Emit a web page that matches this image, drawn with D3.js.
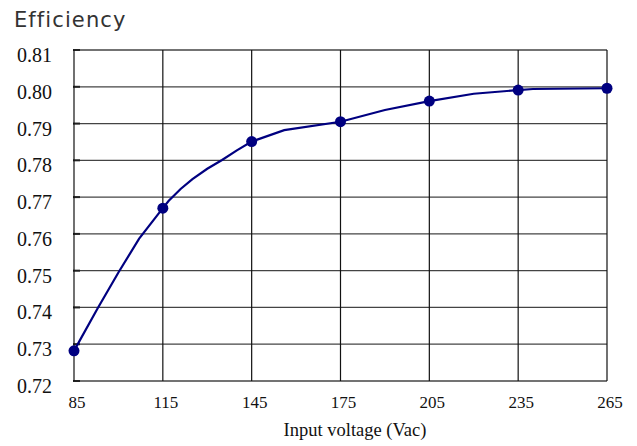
<!DOCTYPE html>
<html>
<head>
<meta charset="utf-8">
<script src="https://cdn.jsdelivr.net/npm/d3@7"></script>
<style>
  body { margin: 0; background: #fff; }
</style>
</head>
<body>
<svg id="chart" width="637" height="446"></svg>
<script>
// measured curve (with in-between vertices) and the marked points
var lineV = [85, 93, 100, 107, 115, 117, 121, 125, 130, 135, 140, 145, 156, 175, 190, 205, 220, 235, 240, 265];
var lineE = [0.7282, 0.7398, 0.7495, 0.7587, 0.7670, 0.7690, 0.7722, 0.7749, 0.7777, 0.7801, 0.7827, 0.7851, 0.7882,
             0.7905, 0.7937, 0.7961, 0.7981, 0.7991, 0.7994, 0.7996];
var markV = [85, 115, 145, 175, 205, 235, 265];
var markE = [0.7282, 0.7670, 0.7851, 0.7905, 0.7961, 0.7991, 0.7996];
var xTicks = [85, 115, 145, 175, 205, 235, 265];
var yTicks = [0.72, 0.73, 0.74, 0.75, 0.76, 0.77, 0.78, 0.79, 0.80, 0.81];

var plotL = 74, plotR = 607, plotT = 50, plotB = 381;

function draw()
{
    var svg = d3.select("svg"),
        x = d3.scaleLinear().domain([85, 265]).range([plotL, plotR]),
        y = d3.scaleLinear().domain([0.72, 0.81]).range([plotB, plotT]);

    // grid
    svg.selectAll(".hgrid").data(yTicks).enter().append("line")
      .attr("x1", plotL - 1).attr("x2", plotR)
      .attr("y1", function(d) { return y(d); })
      .attr("y2", function(d) { return y(d); })
      .attr("stroke", "#444").attr("stroke-width", 1.3);
    svg.selectAll(".lticks").data(yTicks).enter().append("line")
      .attr("x1", plotL - 1).attr("x2", plotL + 6)
      .attr("y1", function(d) { return y(d); })
      .attr("y2", function(d) { return y(d); })
      .attr("stroke", "#222").attr("stroke-width", 2);
    svg.selectAll(".vgrid").data(xTicks).enter().append("line")
      .attr("y1", plotT).attr("y2", plotB)
      .attr("x1", function(d) { return x(d); })
      .attr("x2", function(d) { return x(d); })
      .attr("stroke", "#111").attr("stroke-width", 1.2);

    // y labels
    svg.selectAll(".ylab").data(yTicks).enter().append("text")
      .attr("x", 52).attr("y", function(d) { return y(d) + 12; })
      .attr("text-anchor", "end")
      .attr("font-family", "Liberation Serif, Times New Roman, serif")
      .attr("font-size", 20).attr("fill", "#111")
      .text(function(d) { return d.toFixed(2); });

    // x labels
    svg.selectAll(".xlab").data(xTicks).enter().append("text")
      .attr("x", function(d) { return x(d) + 3; }).attr("y", 408)
      .attr("text-anchor", "middle")
      .attr("font-family", "Liberation Serif, Times New Roman, serif")
      .attr("font-size", 17).attr("fill", "#111")
      .text(function(d) { return d; });

    svg.append("text")
      .attr("x", 355).attr("y", 436)
      .attr("text-anchor", "middle")
      .attr("font-family", "Liberation Serif, Times New Roman, serif")
      .attr("font-size", 18.5).attr("fill", "#111")
      .text("Input voltage (Vac)");

    svg.append("text")
      .attr("x", 14).attr("y", 27)
      .attr("font-family", "DejaVu Sans, sans-serif")
      .attr("font-size", 21).attr("letter-spacing", 1.1).attr("fill", "#333")
      .text("Efficiency");

    // curve
    var pts = lineV.map(function(v, i) { return [v, lineE[i]]; });
    svg.append("path")
      .attr("d", d3.line().x(function(d) { return x(d[0]); }).y(function(d) { return y(d[1]); })(pts))
      .attr("fill", "none").attr("stroke", "#000080").attr("stroke-width", 2.2);

    svg.selectAll(".mark").data(markV).enter().append("circle")
      .attr("cx", function(d) { return x(d); })
      .attr("cy", function(d, i) { return y(markE[i]); })
      .attr("r", 5.5).attr("fill", "#000080");
}
draw();
</script>
</body>
</html>
